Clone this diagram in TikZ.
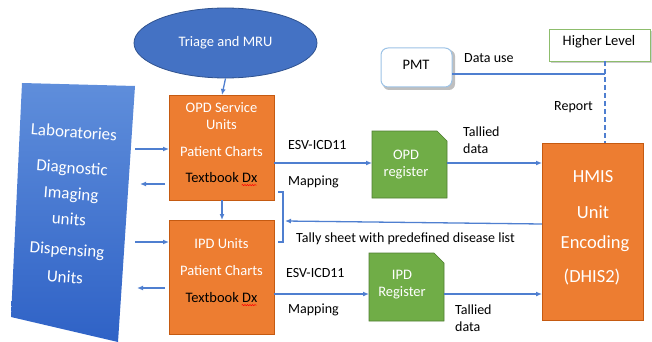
\documentclass[tikz,border=0pt]{standalone}
\usepackage{fontspec}
\setmainfont{Carlito}
\usetikzlibrary{arrows.meta,shapes.geometric,decorations.pathmorphing}
\definecolor{mblue}{HTML}{4472C4}
\definecolor{lnblue}{HTML}{4F7FD0}
\definecolor{dblue}{HTML}{2F528F}
\definecolor{ptop}{HTML}{5F8EDB}
\definecolor{pbot}{HTML}{2F62C6}
\definecolor{morange}{HTML}{ED7D31}
\definecolor{dorange}{HTML}{C55A11}
\definecolor{mgreen}{HTML}{70AD47}
\definecolor{dgreen}{HTML}{507E32}
\definecolor{lblue}{HTML}{9DC3E6}
\begin{document}
\begin{tikzpicture}[x=1pt,y=-1pt,
  conn/.style={draw=lnblue,line width=1.3pt,-{Latex[length=6pt,width=5pt]}},
  plain/.style={draw=lnblue,line width=1.2pt},
  obox/.style={draw=dorange,fill=morange,line width=0.6pt},
  wtxt/.style={text=white,font=\fontsize{14.5}{17}\selectfont,align=center,inner sep=0pt},
  btxt/.style={text=black,font=\fontsize{14.5}{17}\selectfont,align=center,inner sep=0pt},
  lbl/.style={text=black,font=\fontsize{14}{17}\selectfont,align=left,inner sep=0pt,anchor=west},
  ltxt/.style={text=white,font=\fontsize{17}{19}\selectfont,inner sep=0pt,rotate=-4},
  htxt/.style={text=white,font=\fontsize{18.5}{20}\selectfont,inner sep=0pt},
  gbox/.style={draw=dgreen,fill=mgreen,line width=0.6pt},
  squig/.style={draw=red,line width=0.5pt,decorate,decoration={snake,amplitude=0.6pt,segment length=2.5pt}}
]
\useasboundingbox (0,0) rectangle (652,342);

% Triage ellipse
\node[ellipse,draw=dblue,fill=mblue,line width=0.8pt,minimum width=183pt,minimum height=70pt,
  text=white,font=\fontsize{14.5}{17}\selectfont] (tri) at (225.5,43) {Triage and MRU};

% Left parallelogram
\shade[top color=ptop,bottom color=pbot] (22,83) -- (135,86) -- (118,342) -- (11,317) -- cycle;
\node[ltxt] (lab) at (74,132) {Laboratories};
\node[ltxt] (dia) at (72,169) {Diagnostic};
\node[ltxt] (ima) at (71,195) {Imaging};
\node[ltxt] (uni) at (69,219) {units};
\node[ltxt] (dis) at (67,251) {Dispensing};
\node[ltxt] (un2) at (65,277) {Units};
\coordinate (pR1) at (135,149);
\coordinate (pR2) at (140,184);
\coordinate (pR3) at (135,242);
\coordinate (pR4) at (137,288);

% OPD box
\path[obox] (169,95) rectangle (274,200);
\coordinate (opdT) at (222,95);
\coordinate (opdB) at (222,200);
\coordinate (opdL1) at (169,149);
\coordinate (opdL2) at (165,184);
\coordinate (opdR) at (274,163);
\node[wtxt] (o1) at (221.5,116.5) {OPD Service\\Units};
\node[wtxt] (o2) at (221.5,152) {Patient Charts};
\node[btxt] (o3) at (221.5,178) {Textbook Dx};
\draw[squig] (o3.south east) ++(-16,1.8) -- ++(15,0);

% IPD box
\path[obox] (169,220) rectangle (274,334);
\coordinate (ipdT) at (222,220);
\coordinate (ipdL1) at (169,242);
\coordinate (ipdL2) at (165,288);
\coordinate (ipdR) at (274,294);
\node[wtxt] (i1) at (221.5,244) {IPD Units};
\node[wtxt] (i2) at (221.5,271) {Patient Charts};
\node[btxt] (i3) at (221.5,298) {Textbook Dx};
\draw[squig] (i3.south east) ++(-16,1.8) -- ++(15,0);

% arrows vertical
\draw[conn] (tri.south) -- (opdT);
\draw[conn] (opdB) -- (ipdT);

% left arrows
\draw[conn] (pR1) -- (opdL1);
\draw[conn] (opdL2) -- (pR2);
\draw[conn] (pR3) -- (ipdL1);
\draw[conn] (ipdL2) -- (pR4);

% OPD register
\path[gbox] (372,131) -- (437,131) -- (447,141) -- (447,198) -- (372,198) -- cycle;
\coordinate (orL) at (372,163);
\coordinate (orR) at (447,163);
\node[wtxt] (orT) at (406,165) {OPD\\register};

% IPD register
\path[gbox] (369,253) -- (434,253) -- (444,263) -- (444,321) -- (369,321) -- cycle;
\coordinate (irL) at (369,294);
\coordinate (irR) at (444,294);
\node[wtxt] (irT) at (402,285) {IPD\\Register};

% HMIS
\path[obox] (542,143) rectangle (643,320);
\coordinate (hL1) at (542,163);
\coordinate (hL2) at (542,294);
\coordinate (hL3) at (542,224);
\coordinate (hT) at (605,143);
\node[htxt] (h1) at (593,177) {HMIS};
\node[htxt] (h2) at (593,212) {Unit};
\node[htxt] (h3) at (595,244) {Encoding};
\node[htxt] (h4) at (592,277) {(DHIS2)};

% horizontal flows
\draw[conn] (opdR) -- (orL);
\draw[conn] (orR) -- (hL1);
\draw[conn] (ipdR) -- (irL);
\draw[conn] (irR) -- (hL2);

% bracket and tally arrow
\coordinate (brT) at (278,192);
\coordinate (brB) at (278,242);
\coordinate (brM) at (285,221);
\draw[plain] (brT) -- (283,192) -- (283,242) -- (brB);
\draw[conn] (hL3) -- (brM);

% PMT
\fill[black!25,rounded corners=6pt] (383,50) rectangle (455,90);
\draw[lblue,fill=white,line width=1pt,rounded corners=7pt] (381,48) rectangle (452,87);
\node[btxt] (pmt) at (416,65) {PMT};
\coordinate (pmtR) at (452,74);
\coordinate (vj) at (605,74);
\draw[plain] (pmtR) -- (vj);

% Higher level
\fill[black!20] (551,31) rectangle (652,63);
\draw[mgreen!80,fill=white,line width=0.8pt] (549,29) rectangle (650,61);
\node[btxt] (hl) at (599,42) {Higher Level};
\coordinate (hlB) at (605,61);
\draw[plain,dashed,dash pattern=on 5pt off 3pt] (hlB) -- (hT);

% labels
\node[lbl] (lr) at (554,107) {Report};
\node[lbl] (ldu) at (464,58) {Data use};
\node[lbl] (lt1) at (463,140) {Tallied\\data};
\node[lbl] (lt2) at (455,318) {Tallied\\data};
\node[lbl] (le1) at (288,145) {ESV-ICD11};
\node[lbl] (lm1) at (288,182) {Mapping};
\node[lbl] (le2) at (286,273) {ESV-ICD11};
\node[lbl] (lm2) at (288,310) {Mapping};
\node[lbl] (lts) at (296,239) {Tally sheet with predefined disease list};
\end{tikzpicture}
\end{document}
